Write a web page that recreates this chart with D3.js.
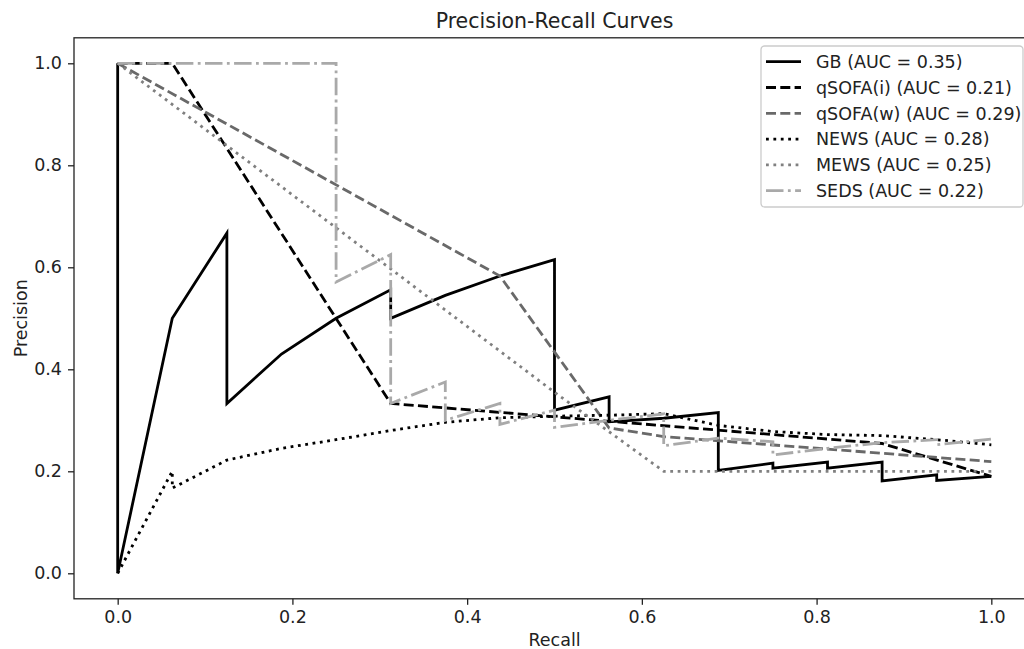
<!DOCTYPE html>
<html>
<head>
<meta charset="utf-8">
<script src="https://cdn.jsdelivr.net/npm/d3@7"></script>
<style>
  body { margin: 0; background: #fff; }
  svg { display: block; font-family: "DejaVu Sans", sans-serif; }
</style>
</head>
<body>
<svg width="1024" height="649"></svg>
<script>
// data (recall / precision pairs per model)
const gbRecall = [0, 0, 0.0625, 0.125, 0.125, 0.1875, 0.25, 0.3125, 0.3125, 0.375, 0.4375, 0.5, 0.5, 0.5625, 0.5625, 0.625, 0.6875, 0.6875, 0.75, 0.75, 0.8125, 0.8125, 0.875, 0.875, 0.9375, 0.9375, 1.0];
const gbPrecision = [1, 0, 0.5, 0.667, 0.333, 0.43, 0.5, 0.556, 0.5, 0.545, 0.583, 0.615, 0.32, 0.346, 0.297, 0.304, 0.315, 0.202, 0.216, 0.206, 0.218, 0.206, 0.218, 0.181, 0.193, 0.182, 0.19];

const qsofaIRecall = [0, 0.0625, 0.3125, 0.875, 1.0];
const qsofaIPrecision = [1, 1, 0.333, 0.2545, 0.19];

const qsofaWRecall = [0, 0.4375, 0.5625, 0.625, 1.0];
const qsofaWPrecision = [1, 0.583, 0.285, 0.268, 0.219];

const newsRecall = [0, 0.0625, 0.0625, 0.125, 0.1875, 0.25, 0.3125, 0.375, 0.4375, 0.5, 0.5625, 0.625, 0.6875, 0.75, 0.8125, 0.875, 0.9375, 1.0];
const newsPrecision = [0, 0.2, 0.167, 0.222, 0.245, 0.262, 0.28, 0.296, 0.305, 0.308, 0.31, 0.313, 0.29, 0.278, 0.272, 0.27, 0.262, 0.252];

const mewsRecall = [0, 0.5, 0.625, 1.0];
const mewsPrecision = [1, 0.355, 0.2, 0.2];

const sedsRecall = [0, 0.25, 0.25, 0.3125, 0.3125, 0.375, 0.375, 0.4375, 0.4375, 0.5, 0.5, 0.5625, 0.625, 0.625, 0.6875, 0.75, 0.75, 0.8125, 0.875, 0.9375, 0.9375, 1.0];
const sedsPrecision = [1, 1, 0.571, 0.625, 0.333, 0.375, 0.30, 0.333, 0.292, 0.32, 0.286, 0.30, 0.3125, 0.25, 0.265, 0.258, 0.232, 0.245, 0.256, 0.262, 0.252, 0.263];

const labels = ["GB (AUC = 0.35)", "qSOFA(i) (AUC = 0.21)", "qSOFA(w) (AUC = 0.29)", "NEWS (AUC = 0.28)", "MEWS (AUC = 0.25)", "SEDS (AUC = 0.22)"];
const tickValues = [0, 0.2, 0.4, 0.6, 0.8, 1.0];

window.onload = () => {
  const svg = d3.select("svg");
  const margin = { left: 74, right: 1035, top: 37.8, bottom: 598.8 };

  const x = d3.scaleLinear().domain([-0.05, 1.05]).range([margin.left, margin.right]);
  const y = d3.scaleLinear().domain([-0.05, 1.05]).range([margin.bottom, margin.top]);

  const lw = 2.8;
  const series = [
    { r: gbRecall, p: gbPrecision, color: "#000", dash: null },
    { r: qsofaIRecall, p: qsofaIPrecision, color: "#000", dash: "10,4.3" },
    { r: qsofaWRecall, p: qsofaWPrecision, color: "#696969", dash: "10,4.3" },
    { r: newsRecall, p: newsPrecision, color: "#000", dash: "2.8,4.6" },
    { r: mewsRecall, p: mewsPrecision, color: "#808080", dash: "2.8,4.6" },
    { r: sedsRecall, p: sedsPrecision, color: "#a9a9a9", dash: "17.5,4.4,2.8,4.4" }
  ];

  svg.append("clipPath").attr("id", "clip")
    .append("rect")
    .attr("x", margin.left).attr("y", margin.top)
    .attr("width", margin.right - margin.left)
    .attr("height", margin.bottom - margin.top);

  const line = d3.line().x(d => x(d[0])).y(d => y(d[1]));

  const plot = svg.append("g").attr("clip-path", "url(#clip)");
  series.forEach(s => {
    plot.append("path")
      .datum(s.r.map((v, i) => [v, s.p[i]]))
      .attr("d", line)
      .attr("fill", "none")
      .attr("stroke", s.color)
      .attr("stroke-width", lw)
      .attr("stroke-linejoin", "miter")
      .attr("stroke-dasharray", s.dash);
  });

  // axes
  const xAxis = d3.axisBottom(x).tickValues(tickValues).tickFormat(d3.format(".1f")).tickSize(6).tickPadding(6);
  const yAxis = d3.axisLeft(y).tickValues(tickValues).tickFormat(d3.format(".1f")).tickSize(6).tickPadding(6);

  const xg = svg.append("g").attr("transform", `translate(0,${margin.bottom})`).call(xAxis);
  const yg = svg.append("g").attr("transform", `translate(${margin.left},0)`).call(yAxis);
  [xg, yg].forEach(g => {
    g.select(".domain").remove();
    g.selectAll("line").attr("stroke", "#222").attr("stroke-width", 1.3);
    g.selectAll("text").attr("fill", "#222").style("font-size", "17.5px").style("font-family", "DejaVu Sans");
  });

  // spines
  svg.append("rect")
    .attr("x", margin.left).attr("y", margin.top)
    .attr("width", margin.right - margin.left)
    .attr("height", margin.bottom - margin.top)
    .attr("fill", "none").attr("stroke", "#222").attr("stroke-width", 1.3);

  // titles
  svg.append("text").attr("x", (margin.left + margin.right) / 2).attr("y", 28)
    .attr("text-anchor", "middle").style("font-size", "20.5px").attr("fill", "#222")
    .text("Precision-Recall Curves");
  svg.append("text").attr("x", (margin.left + margin.right) / 2).attr("y", 646)
    .attr("text-anchor", "middle").style("font-size", "17.5px").attr("fill", "#222")
    .text("Recall");
  svg.append("text")
    .attr("transform", `translate(27,${(margin.top + margin.bottom) / 2}) rotate(-90)`)
    .attr("text-anchor", "middle").style("font-size", "17.5px").attr("fill", "#222")
    .text("Precision");

  // legend
  const lg = svg.append("g");
  lg.append("rect")
    .attr("x", 761).attr("y", 46).attr("width", 262).attr("height", 161)
    .attr("rx", 3.5)
    .attr("fill", "#fff").attr("fill-opacity", 0.8)
    .attr("stroke", "#ccc").attr("stroke-width", 1.3);
  series.forEach((s, i) => {
    const yy = 61.7 + i * 25.8;
    lg.append("line")
      .attr("x1", 766).attr("x2", 801).attr("y1", yy).attr("y2", yy)
      .attr("stroke", s.color).attr("stroke-width", lw)
      .attr("stroke-dasharray", s.dash);
    lg.append("text")
      .attr("x", 816).attr("y", yy + 6.3)
      .style("font-size", "17.5px").attr("fill", "#222")
      .text(labels[i]);
  });
};
</script>
</body>
</html>
